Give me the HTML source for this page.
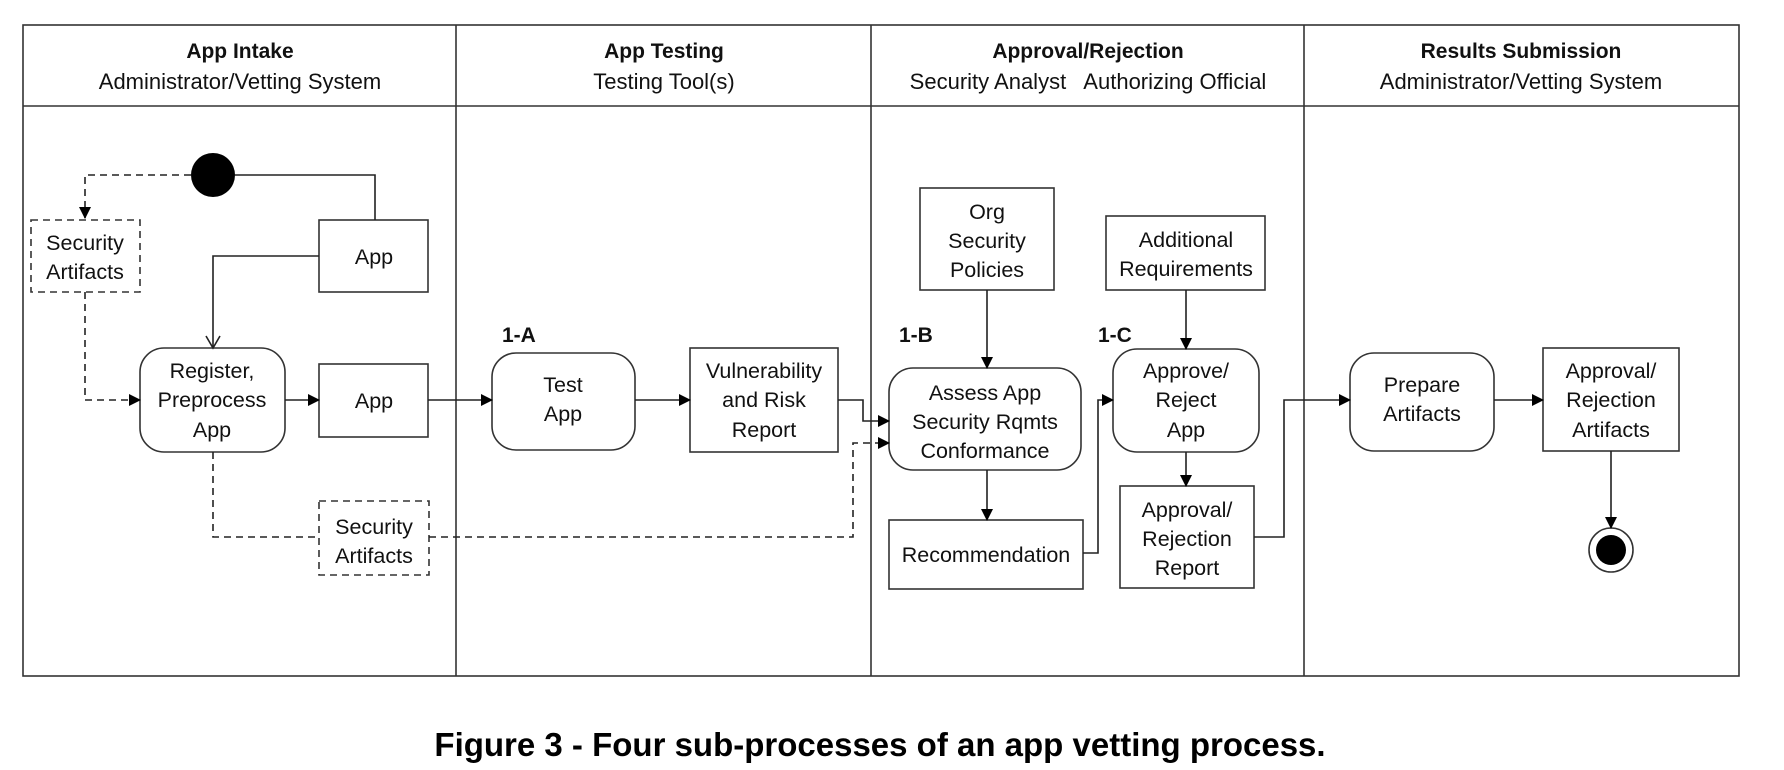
<!DOCTYPE html>
<html><head><meta charset="utf-8"><style>
html,body{margin:0;padding:0;background:#fff;}
svg{display:block;}
text{font-family:"Liberation Sans",sans-serif;fill:#111;}
.t{font-size:21.5px;}
.s{font-size:22px;}
.h{font-size:21px;font-weight:bold;}
</style></head><body>
<svg width="1784" height="770" viewBox="0 0 1784 770" xmlns="http://www.w3.org/2000/svg">
<defs>
<marker id="a" markerWidth="12" markerHeight="12" refX="11" refY="6" orient="auto" markerUnits="userSpaceOnUse"><path d="M0,0 L12,6 L0,12 z" fill="#000"/></marker>
</defs>
<g fill="none" stroke="#333" stroke-width="1.6">
<rect x="23" y="25" width="1716" height="651"/>
<line x1="23" y1="106" x2="1739" y2="106"/>
<line x1="456" y1="25" x2="456" y2="676"/>
<line x1="871" y1="25" x2="871" y2="676"/>
<line x1="1304" y1="25" x2="1304" y2="676"/>
</g>
<g text-anchor="middle">
<text class="h" x="240" y="58">App Intake</text>
<text class="s" x="240" y="89">Administrator/Vetting System</text>
<text class="h" x="664" y="58">App Testing</text>
<text class="s" x="664" y="89">Testing Tool(s)</text>
<text class="h" x="1088" y="58">Approval/Rejection</text>
<text class="s" x="1088" y="89" xml:space="preserve">Security Analyst   Authorizing Official</text>
<text class="h" x="1521" y="58">Results Submission</text>
<text class="s" x="1521" y="89">Administrator/Vetting System</text>
</g>
<g fill="#fff" stroke="#333" stroke-width="1.6">
<rect x="31" y="220" width="109" height="72" stroke-dasharray="7,5"/>
<rect x="319" y="220" width="109" height="72"/>
<rect x="140" y="348" width="145" height="104" rx="24"/>
<rect x="319" y="364" width="109" height="73"/>
<rect x="492" y="353" width="143" height="97" rx="24"/>
<rect x="690" y="348" width="148" height="104"/>
<rect x="319" y="501" width="110" height="74" stroke-dasharray="7,5"/>
<rect x="920" y="188" width="134" height="102"/>
<rect x="889" y="368" width="192" height="102" rx="24"/>
<rect x="889" y="520" width="194" height="69"/>
<rect x="1106" y="216" width="159" height="74"/>
<rect x="1113" y="349" width="146" height="103" rx="24"/>
<rect x="1120" y="486" width="134" height="102"/>
<rect x="1350" y="353" width="144" height="98" rx="24"/>
<rect x="1543" y="348" width="136" height="103"/>
</g>
<circle cx="213" cy="175" r="22" fill="#000"/>
<circle cx="1611" cy="550" r="22" fill="#fff" stroke="#333" stroke-width="1.6"/>
<circle cx="1611" cy="550" r="15" fill="#000"/>
<g fill="none" stroke="#222" stroke-width="1.6">
<polyline points="235,175 375,175 375,220"/>
<polyline points="191,175 85,175 85,218" stroke-dasharray="7,5" marker-end="url(#a)"/>
<polyline points="85,292 85,400 140,400" stroke-dasharray="7,5" marker-end="url(#a)"/>
<polyline points="319,256 213,256 213,348"/>
<polyline points="206,336 213,348 220,336"/>
<line x1="285" y1="400" x2="319" y2="400" marker-end="url(#a)"/>
<line x1="428" y1="400" x2="492" y2="400" marker-end="url(#a)"/>
<line x1="635" y1="400" x2="690" y2="400" marker-end="url(#a)"/>
<polyline points="838,400 863,400 863,421 889,421" marker-end="url(#a)"/>
<polyline points="213,452 213,537 319,537" stroke-dasharray="7,5"/>
<polyline points="429,537 853,537 853,443 889,443" stroke-dasharray="7,5" marker-end="url(#a)"/>
<line x1="987" y1="290" x2="987" y2="368" marker-end="url(#a)"/>
<line x1="987" y1="470" x2="987" y2="520" marker-end="url(#a)"/>
<polyline points="1083,553 1098,553 1098,400 1113,400" marker-end="url(#a)"/>
<line x1="1186" y1="290" x2="1186" y2="349" marker-end="url(#a)"/>
<line x1="1186" y1="452" x2="1186" y2="486" marker-end="url(#a)"/>
<polyline points="1254,537 1284,537 1284,400 1350,400" marker-end="url(#a)"/>
<line x1="1494" y1="400" x2="1543" y2="400" marker-end="url(#a)"/>
<line x1="1611" y1="451" x2="1611" y2="528" marker-end="url(#a)"/>
</g>
<g text-anchor="middle">
<text class="t" x="85" y="250">Security</text><text class="t" x="85" y="279">Artifacts</text>
<text class="t" x="374" y="264">App</text>
<text class="t" x="212" y="378">Register,</text><text class="t" x="212" y="407">Preprocess</text><text class="t" x="212" y="437">App</text>
<text class="t" x="374" y="408">App</text>
<text class="t" x="563" y="392">Test</text><text class="t" x="563" y="421">App</text>
<text class="t" x="764" y="378">Vulnerability</text><text class="t" x="764" y="407">and Risk</text><text class="t" x="764" y="437">Report</text>
<text class="t" x="374" y="534">Security</text><text class="t" x="374" y="563">Artifacts</text>
<text class="t" x="987" y="219">Org</text><text class="t" x="987" y="248">Security</text><text class="t" x="987" y="277">Policies</text>
<text class="t" x="985" y="400">Assess App</text><text class="t" x="985" y="429">Security Rqmts</text><text class="t" x="985" y="458">Conformance</text>
<text class="t" x="986" y="562">Recommendation</text>
<text class="t" x="1186" y="247">Additional</text><text class="t" x="1186" y="276">Requirements</text>
<text class="t" x="1186" y="378">Approve/</text><text class="t" x="1186" y="407">Reject</text><text class="t" x="1186" y="437">App</text>
<text class="t" x="1187" y="517">Approval/</text><text class="t" x="1187" y="546">Rejection</text><text class="t" x="1187" y="575">Report</text>
<text class="t" x="1422" y="392">Prepare</text><text class="t" x="1422" y="421">Artifacts</text>
<text class="t" x="1611" y="378">Approval/</text><text class="t" x="1611" y="407">Rejection</text><text class="t" x="1611" y="437">Artifacts</text>
</g>
<text class="h" x="502" y="342">1-A</text>
<text class="h" x="899" y="342">1-B</text>
<text class="h" x="1098" y="342">1-C</text>
<text x="880" y="756" text-anchor="middle" style="font-size:33px;font-weight:bold;fill:#000">Figure 3 - Four sub-processes of an app vetting process.</text>
</svg>
</body></html>
